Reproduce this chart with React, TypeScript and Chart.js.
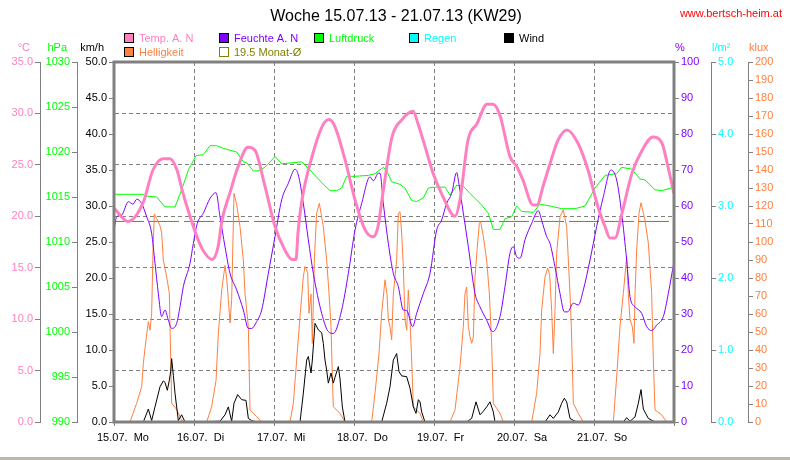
import React, { useEffect, useRef } from "react";
import { Chart, registerables } from "chart.js";

Chart.register(...registerables);

const FONT = "'Liberation Sans', Arial, sans-serif";
const GRAY = "#808080";
const C_TEMP = "#ff80c0";
const C_HUM = "#8000ff";
const C_PRES = "#00ff00";
const C_RAIN = "#00ffff";
const C_WIND = "#000000";
const C_LUX = "#ff8040";
const C_AVG = "#808000";

const titleText = "Woche 15.07.13 - 21.07.13 (KW29)";
const siteText = "www.bertsch-heim.at";
const dayLabels = ["15.07.  Mo", "16.07.  Di", "17.07.  Mi", "18.07.  Do", "19.07.  Fr", "20.07.  Sa", "21.07.  So"];
const monthAvgTemp = 19.5;

// [hour of week, value]
const tempReadings: [number, number][] = [
  [0, 20.8], [4.2, 19.5], [8.7, 21.3], [11.7, 24.5], [14.7, 25.6], [16.8, 25.6], [18.9, 24.5], [20.4, 22.6], [22.8, 20.0], [24.9, 18.0],
  [26.7, 16.7], [29.4, 15.8], [31.2, 17.0], [32.4, 19.6], [34.8, 22.3], [37.2, 24.8], [40.2, 26.7], [42.3, 26.4], [45.3, 22.9], [48.3, 19.0],
  [51.3, 16.7], [53.4, 15.8], [54.6, 15.8], [55.2, 18.4], [56.4, 21.6], [59.4, 25.8], [62.4, 28.7], [64.5, 29.4], [66.3, 28.7], [69.3, 25.5],
  [72.3, 21.6], [75.3, 18.7], [77.7, 18.0], [79.2, 19.0], [80.7, 22.3], [83.4, 27.7], [86.4, 29.4], [89.7, 30.2], [91.2, 29.0], [93.3, 26.8],
  [95.7, 24.2], [98.7, 21.9], [102.3, 20.0], [103.8, 21.6], [106.2, 27.4], [108.9, 29.0], [111.9, 30.9], [113.7, 30.9], [115.8, 29.8], [118.8, 25.8],
  [120.9, 24.8], [122.7, 23.5], [125.7, 21.1], [126.9, 21.1], [128.7, 22.9], [130.8, 25.1], [133.2, 27.4], [135.9, 28.4], [139.2, 27.1], [142.2, 24.5],
  [145.2, 20.9], [147.3, 19.0], [148.8, 17.9], [150.3, 17.9], [152.4, 20.3], [155.4, 24.2], [158.4, 26.4], [161.7, 27.7], [164.4, 27.1], [166.2, 24.8],
  [168, 22.2],
];

const humReadings: [number, number][] = [
  [0, 53.3], [0.8, 57.0], [2.3, 57.5], [4.3, 61.2], [5.7, 60.5], [6.8, 61.9], [8.3, 60.7], [9.8, 57.0], [11.3, 52.4], [12.3, 44.1],
  [13.3, 35.7], [14.3, 29.3], [15.3, 31.1], [16.3, 28.3], [17.3, 26.0], [18.8, 27.4], [19.8, 32.0], [20.8, 37.6], [22.8, 44.1], [23.8, 49.6],
  [25.0, 55.2], [26.8, 58.0], [28.8, 62.1], [30.6, 63.7], [31.8, 57.0], [33.3, 48.7], [34.8, 41.3], [36.8, 36.7], [38.8, 31.1], [40.3, 26.0],
  [41.3, 26.0], [42.8, 27.9], [44.3, 31.1], [46.3, 41.3], [48.3, 51.5], [50.3, 61.7], [52.3, 66.3], [54.3, 70.2], [55.3, 68.6], [56.8, 60.7],
  [58.3, 50.6], [59.8, 41.3], [62.3, 30.2], [64.3, 25.1], [65.8, 24.6], [68.3, 31.1], [70.3, 41.3], [72.3, 53.3], [74.3, 60.7], [76.8, 68.1],
  [77.8, 67.0], [79.3, 69.1], [79.8, 69.1], [80.8, 60.7], [82.3, 49.6], [83.8, 41.3], [85.3, 37.6], [86.8, 31.1], [87.8, 31.0], [89.6, 26.5],
  [90.8, 30.2], [92.8, 35.7], [94.8, 41.3], [96.8, 53.3], [98.3, 56.1], [99.8, 60.7], [101.3, 63.5], [102.8, 69.3], [103.5, 66.0], [104.8, 58.0],
  [106.3, 48.7], [108.3, 35.7], [109.8, 32.0], [111.8, 28.3], [113.6, 25.1], [115.8, 29.3], [117.3, 37.6], [118.8, 46.9], [119.8, 48.7], [120.8, 45.9],
  [121.8, 45.5], [123.3, 50.6], [125.3, 55.2], [127.3, 58.7], [128.3, 56.0], [129.8, 51.5], [130.8, 49.6], [132.3, 43.1], [133.8, 35.7], [135.1, 30.6],
  [136.1, 30.6], [137.8, 33.0], [139.3, 32.5], [140.8, 36.7], [142.8, 45.0], [144.8, 54.3], [146.8, 62.6], [149.1, 70.0], [150.8, 67.2], [152.3, 58.0],
  [153.8, 45.0], [154.8, 34.8], [156.3, 32.0], [158.3, 30.2], [159.8, 26.5], [161.3, 25.4], [162.8, 26.9], [164.8, 29.3], [166.3, 35.7], [168, 44.5],
];

const presReadings: [number, number][] = [
  [0, 1015.3], [8.8, 1015.3], [9.3, 1015.1], [12.8, 1015.0], [15.3, 1013.9], [18.3, 1013.9], [20.3, 1015.8], [22.3, 1018.0], [24.6, 1019.6], [26.8, 1019.7],
  [28.8, 1020.7], [30.8, 1020.7], [32.8, 1020.4], [36.8, 1020.0], [38.8, 1018.9], [39.8, 1018.8], [41.8, 1017.9], [43.2, 1017.9], [45.3, 1018.3], [48.3, 1019.5],
  [50.3, 1018.7], [53.3, 1018.8], [56.3, 1018.9], [58.3, 1018.2], [62.3, 1016.6], [64.8, 1015.7], [66.8, 1015.7], [68.3, 1016.0], [69.8, 1017.3], [72.3, 1017.3],
  [76.3, 1017.4], [78.3, 1017.6], [80.8, 1018.3], [81.8, 1017.9], [83.3, 1016.7], [85.8, 1016.4], [87.3, 1016.0], [89.3, 1014.6], [90.8, 1014.5], [92.8, 1014.9],
  [94.3, 1016.0], [96.8, 1016.1], [99.3, 1016.1], [100.8, 1015.2], [102.8, 1016.3], [104.8, 1016.2], [106.8, 1015.4], [109.8, 1014.3], [112.3, 1013.2], [113.8, 1011.4],
  [115.8, 1011.4], [117.3, 1012.6], [119.3, 1012.8], [120.8, 1014.0], [122.3, 1013.4], [125.8, 1013.3], [127.8, 1014.2], [130.8, 1014.0], [134.3, 1013.7], [138.3, 1013.7],
  [141.3, 1014.0], [144.3, 1016.0], [147.3, 1017.4], [150.8, 1017.6], [152.3, 1018.3], [155.3, 1018.1], [157.8, 1017.0], [159.3, 1016.9], [162.3, 1015.8], [164.3, 1015.7],
  [168, 1016.1],
];

const rainReadings: [number, number][] = [];

const windReadings: [number, number][] = [
  [0, 0], [8.8, 0], [10.3, 1.8], [11.3, 0.2], [12.3, 2.1], [13.8, 4.9], [14.8, 5.7], [15.3, 5.5], [16.0, 4.4], [16.6, 5.8],
  [17.0, 7.0], [17.3, 8.8], [17.8, 6.5], [18.3, 4.0], [18.8, 2.1], [19.3, 0.2], [20.3, 1.0], [21.3, 0],
  [31.8, 0.1], [33.3, 1.0], [34.3, 2.1], [35.3, 0.1], [36.0, 2.6], [37.1, 3.8], [38.3, 3.1], [39.6, 3.0], [40.3, 0.5], [41.3, 0.2], [42.8, 0],
  [55.8, 0], [56.8, 4.0], [57.8, 8.6], [58.3, 9.1], [59.1, 6.8], [59.5, 8.6], [60.3, 13.7], [61.3, 12.8], [62.3, 12.4], [62.8, 10.9],
  [63.3, 8.6], [63.8, 7.2], [64.3, 5.4], [65.1, 6.8], [65.8, 5.4], [66.3, 6.2], [67.3, 7.7], [67.8, 6.0], [68.5, 2.1], [69.3, 0],
  [80.3, 0], [81.8, 2.6], [82.8, 4.9], [83.8, 8.6], [84.8, 9.5], [85.5, 7.0], [86.3, 6.4], [87.8, 6.3], [88.8, 4.7], [89.8, 2.1],
  [90.6, 1.2], [91.3, 3.1], [91.8, 2.8], [92.3, 1.4], [93.3, 0],
  [105.8, 0], [107.3, 0.5], [108.6, 2.8], [109.8, 1.0], [110.8, 1.5], [111.8, 2.1], [112.8, 2.8], [113.8, 1.4], [114.3, 0],
  [129.3, 0], [130.8, 1.0], [131.8, 0.5], [133.3, 1.4], [134.3, 2.6], [135.1, 3.3], [135.8, 2.8], [136.8, 0.5], [138.3, 0.1], [139.8, 0],
  [152.8, 0], [153.8, 0.6], [154.8, 0.1], [156.3, 0.7], [157.3, 2.6], [158.1, 4.5], [158.8, 1.8], [160.3, 0.5], [162.3, 0], [168, 0],
];

const luxReadings: [number, number][] = [
  [0, 0], [4.8, 0], [6.8, 10.4], [8.3, 19.6], [8.8, 32.6], [9.6, 45.6], [10.3, 55.7], [10.8, 51], [11.3, 60.4], [11.7, 95],
  [12.1, 115.6], [12.8, 113], [13.8, 109], [14.3, 105], [14.8, 90], [15.8, 80.7], [16.6, 71.5], [16.8, 53], [17.3, 10.4], [18.8, 7], [20.3, 1], [21, 0],
  [27.8, 0], [29.3, 8.5], [30.6, 23], [31.3, 49], [32.3, 73], [33.3, 87], [33.8, 80], [34.3, 68], [34.8, 55], [35.3, 68],
  [36.0, 127], [36.8, 121], [37.8, 108.5], [38.8, 90], [39.3, 71.5], [40.3, 53], [40.8, 6.7], [42.8, 3], [44.3, 0],
  [52.8, 0], [53.8, 10.4], [54.8, 34.4], [55.8, 58.5], [56.8, 80.7], [57.3, 86.3], [58.1, 83], [58.5, 60.4], [59.1, 71], [59.5, 43.7],
  [60.1, 90], [60.8, 116], [61.6, 121.5], [62.8, 108.5], [63.8, 90], [64.5, 71.5], [65.1, 53], [65.5, 25], [65.8, 8.5], [67.8, 4.8], [69.3, 0],
  [77.3, 0], [78.3, 16], [79.5, 38], [80.3, 60.4], [81.3, 79], [81.9, 71], [82.3, 56.7], [82.8, 53], [83.3, 45.6], [83.8, 71],
  [84.8, 90], [85.3, 116], [85.8, 116.8], [86.3, 105], [86.8, 86.3], [87.3, 56.7], [87.8, 51], [88.3, 73.3], [88.8, 56.7], [89.3, 34.4],
  [89.8, 8.5], [91.8, 4.8], [92.8, 0],
  [100.8, 0], [102.3, 6.7], [103.8, 30.7], [104.8, 53], [105.3, 71.5], [105.8, 75], [106.3, 53], [106.8, 47.4], [107.3, 43.7], [107.8, 47],
  [108.3, 80.7], [109.0, 97.4], [109.6, 110.4], [110.0, 111.3], [110.8, 103], [111.8, 90], [112.6, 71.5], [113.3, 43.7], [113.8, 10.4], [115.8, 4.8], [116.8, 0],
  [125.3, 0], [126.8, 16], [127.8, 38], [128.3, 62], [129.3, 80.7], [130.1, 85.4], [130.7, 82], [131.3, 62], [131.8, 38], [132.3, 62],
  [132.8, 93.7], [133.8, 114], [134.8, 117.8], [135.8, 108.5], [136.8, 71.5], [137.2, 53], [137.8, 10.4], [139.3, 4.8], [140.8, 0],
  [149.8, 0], [150.8, 25], [151.8, 53], [152.8, 71.5], [153.8, 91.8], [154.3, 71], [154.8, 56.7], [155.5, 53], [156.0, 43.7], [156.3, 71],
  [156.8, 95.6], [157.5, 116], [158.1, 121.8], [159.3, 112], [160.3, 99.3], [161.3, 71.5], [161.8, 34.4], [162.3, 6.7], [164.3, 4], [165.8, 0], [168, 0],
];

const avgReadings: [number, number][] = [[0, monthAvgTemp], [168, monthAvgTemp]];

const units = [
  { axis: "yTemp", text: "°C", color: C_TEMP },
  { axis: "yPres", text: "hPa", color: C_PRES },
  { axis: "yWind", text: "km/h", color: "#000000" },
  { axis: "yHum", text: "%", color: C_HUM },
  { axis: "yRain", text: "l/m²", color: C_RAIN },
  { axis: "yLux", text: "klux", color: C_LUX },
];

const pts = (r: [number, number][]) => r.map(([x, y]) => ({ x, y }));

function yAxis(pos: string, min: number, max: number, step: number, color: string, width: number, fmt: (v: number) => string, weight: number, grid = false) {
  return {
    type: "linear",
    position: pos,
    min,
    max,
    weight,
    ticks: {
      stepSize: step,
      color,
      autoSkip: false,
      padding: 2,
      font: { size: 11, family: FONT },
      callback: (v: any) => fmt(Number(v)),
    },
    grid: {
      drawOnChartArea: grid,
      color: GRAY,
      tickColor: GRAY,
      tickLength: 5,
      lineWidth: 1,
    },
    border: { display: true, color: GRAY, width: 1, dash: grid ? [4, 3] : [] },
    afterFit: (s: any) => {
      s.width = width;
    },
  };
}

const decorPlugin = {
  id: "decor",
  beforeDraw(chart: any) {
    const { ctx, width, height } = chart;
    ctx.save();
    ctx.fillStyle = "#ffffff";
    ctx.fillRect(0, 0, width, height);
    ctx.restore();
  },
  afterDatasetsDraw(chart: any) {
    const { ctx, chartArea: a } = chart;
    ctx.save();
    ctx.strokeStyle = GRAY;
    ctx.lineWidth = 3;
    ctx.strokeRect(a.left, a.top, a.right - a.left, a.bottom - a.top);
    ctx.restore();
  },
  afterDraw(chart: any) {
    const ctx = chart.ctx;
    ctx.save();
    ctx.textBaseline = "alphabetic";
    ctx.font = `16px ${FONT}`;
    ctx.fillStyle = "#000";
    ctx.textAlign = "center";
    ctx.fillText(titleText, 396, 21);

    ctx.font = `11px ${FONT}`;
    ctx.fillStyle = "#ff0000";
    ctx.textAlign = "right";
    ctx.fillText(siteText, 782, 17);

    chart.data.datasets.forEach((ds: any, i: number) => {
      const col = i % 5;
      const row = Math.floor(i / 5);
      const x = 124 + col * 95;
      const y = 33 + row * 14;
      ctx.lineWidth = 1;
      if (ds.legendOpen) {
        ctx.strokeStyle = ds.borderColor;
        ctx.strokeRect(x + 0.5, y + 0.5, 9, 9);
      } else {
        ctx.fillStyle = ds.borderColor;
        ctx.fillRect(x, y, 10, 10);
        ctx.strokeStyle = "#000";
        ctx.strokeRect(x + 0.5, y + 0.5, 9, 9);
      }
      ctx.fillStyle = ds.borderColor;
      ctx.textAlign = "left";
      ctx.fillText(ds.label, x + 15, y + 9);
    });

    units.forEach((u) => {
      const s = chart.scales[u.axis];
      if (!s) return;
      ctx.fillStyle = u.color;
      if (s.position === "left") {
        ctx.textAlign = "right";
        ctx.fillText(u.text, s.right - 10, 51);
      } else {
        ctx.textAlign = "left";
        ctx.fillText(u.text, s.left + 1, 51);
      }
    });

    ctx.fillStyle = "#bcb8ac";
    ctx.fillRect(0, 457, chart.width, 3);
    ctx.restore();
  },
};

export default function App() {
  const ref = useRef<HTMLCanvasElement | null>(null);

  useEffect(() => {
    if (!ref.current) return;
    Chart.defaults.font.family = FONT;
    Chart.defaults.font.size = 11;
    Chart.defaults.color = "#000";

    const chart = new Chart(ref.current, {
      type: "line",
      data: {
        datasets: [
          { label: "Temp. A. N", data: pts(tempReadings), yAxisID: "yTemp", borderColor: C_TEMP, backgroundColor: C_TEMP, borderWidth: 3, pointRadius: 0, cubicInterpolationMode: "monotone" },
          { label: "Feuchte A. N", data: pts(humReadings), yAxisID: "yHum", borderColor: C_HUM, backgroundColor: C_HUM, borderWidth: 1, pointRadius: 0, cubicInterpolationMode: "monotone" },
          { label: "Luftdruck", data: pts(presReadings), yAxisID: "yPres", borderColor: C_PRES, backgroundColor: C_PRES, borderWidth: 1, pointRadius: 0 },
          { label: "Regen", data: pts(rainReadings), yAxisID: "yRain", borderColor: C_RAIN, backgroundColor: C_RAIN, borderWidth: 1, pointRadius: 0 },
          { label: "Wind", data: pts(windReadings), yAxisID: "yWind", borderColor: C_WIND, backgroundColor: C_WIND, borderWidth: 1, pointRadius: 0 },
          { label: "Helligkeit", data: pts(luxReadings), yAxisID: "yLux", borderColor: C_LUX, backgroundColor: C_LUX, borderWidth: 1, pointRadius: 0 },
          { label: `${monthAvgTemp} Monat-Ø`, data: pts(avgReadings), yAxisID: "yTemp", borderColor: C_AVG, backgroundColor: C_AVG, borderWidth: 1, pointRadius: 0, borderDash: [30, 5], legendOpen: true },
        ] as any,
      },
      options: {
        responsive: false,
        animation: false,
        events: [],
        layout: { padding: { top: 62, left: 0, right: 0, bottom: 0 } },
        plugins: { legend: { display: false }, tooltip: { enabled: false }, title: { display: false } },
        scales: {
          x: {
            type: "linear",
            position: "bottom",
            min: 0,
            max: 168,
            ticks: {
              stepSize: 24,
              autoSkip: false,
              maxRotation: 0,
              minRotation: 0,
              align: "start",
              labelOffset: -17,
              padding: 5,
              color: "#000",
              font: { size: 11, family: FONT },
              callback: (v: any) => dayLabels[Math.round(Number(v) / 24)] ?? "",
            },
            grid: { drawOnChartArea: true, color: GRAY, tickColor: GRAY, tickLength: 4, lineWidth: 1 },
            border: { display: true, color: GRAY, width: 1, dash: [4, 3] },
            afterFit: (s: any) => {
              s.height = 38;
            },
          },
          yTemp: yAxis("left", 0, 35, 5, C_TEMP, 40, (v) => v.toFixed(1), 3, true),
          yPres: yAxis("left", 990, 1030, 5, C_PRES, 37, (v) => String(v), 2),
          yWind: yAxis("left", 0, 50, 5, "#000000", 37, (v) => v.toFixed(1), 1),
          yHum: yAxis("right", 0, 100, 10, C_HUM, 37, (v) => String(v), 1),
          yRain: yAxis("right", 0, 5, 1, C_RAIN, 37, (v) => v.toFixed(1), 2),
          yLux: yAxis("right", 0, 200, 10, C_LUX, 42, (v) => String(v), 3),
        } as any,
      },
      plugins: [decorPlugin],
    });
    return () => chart.destroy();
  }, []);

  return (
    <div style={{ position: "absolute", left: 0, top: 0, width: 790, height: 460, background: "#fff" }}>
      <canvas ref={ref} width={790} height={460} style={{ display: "block" }} />
    </div>
  );
}
